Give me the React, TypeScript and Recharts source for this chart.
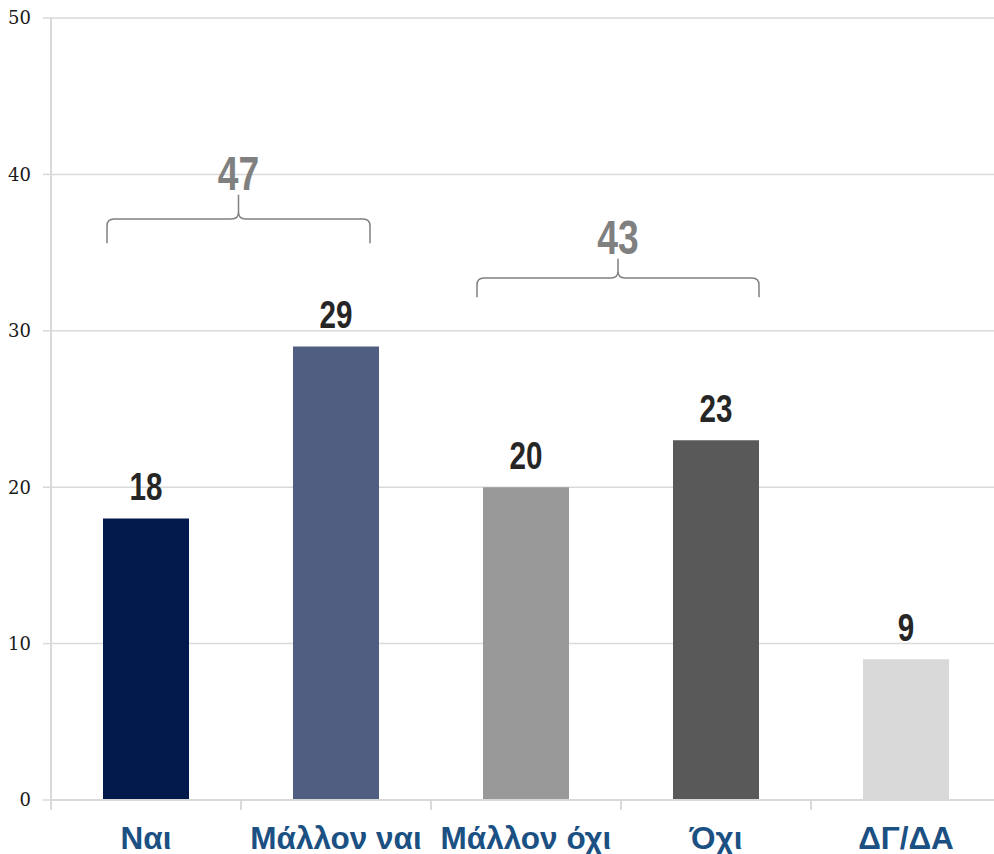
import React from 'react';
import { BarChart, Bar, XAxis, YAxis, CartesianGrid, Cell, LabelList, ReferenceArea } from 'recharts';

// ---- data ----
const categories = ['Ναι', 'Μάλλον ναι', 'Μάλλον όχι', 'Όχι', 'ΔΓ/ΔΑ'];
const values = [18, 29, 20, 23, 9];
const yTicks = [0, 10, 20, 30, 40, 50];
const groupFrom = ['Ναι', 'Μάλλον όχι'];
const groupTo = ['Μάλλον ναι', 'Όχι'];
const groupTotals = [47, 43];

// ---- styles / layout ----
const barColors = ['#011A4B', '#4F5E81', '#999999', '#595959', '#D9D9D9'];
const braceBottom = [35.6, 32.15];
const braceTip = [38.7, 34.6];
const braceInsetLeft = [56, 46];
const braceInsetRight = [61, 52];

const data = categories.map((c, i) => ({ name: c, value: values[i] }));

const LABEL_FONT = "'Liberation Sans', Arial, sans-serif";
const CONDENSE = 0.76;

const XTick = (props: any) => {
  const { x, y, payload } = props;
  const off = payload && payload.offset != null ? payload.offset : 95;
  return (
    <g>
      <line x1={x - off} x2={x - off} y1={y} y2={y + 10} stroke="#D9D9D9" strokeWidth={2} />
      <text
        x={x}
        y={y + 49}
        textAnchor="middle"
        fill="#1B5083"
        fontFamily="'Liberation Sans', Arial, sans-serif"
        fontWeight="bold"
        fontSize={31.5}
      >
        {payload.value}
      </text>
    </g>
  );
};

const ValueLabel = (props: any) => {
  const { x, y, width, value } = props;
  return (
    <text
      transform={`translate(${x + width / 2}, ${y - 18}) scale(${CONDENSE}, 1)`}
      x={0}
      y={0}
      textAnchor="middle"
      fill="#262626"
      fontFamily={LABEL_FONT}
      fontWeight="bold"
      fontSize={39}
    >
      {value}
    </text>
  );
};

const makeBrace = (i: number) => (props: any) => {
  const { x, y, width, height } = props;
  const L = x + braceInsetLeft[i];
  const R = x + width - braceInsetRight[i];
  const M = (L + R) / 2;
  const bottom = y + height;
  const tip = y;
  const mid = y + height * 0.5;
  const r = 7;
  const d = [
    `M ${L} ${bottom}`,
    `L ${L} ${mid + r}`,
    `Q ${L} ${mid} ${L + r} ${mid}`,
    `L ${M - r} ${mid}`,
    `Q ${M} ${mid} ${M} ${mid - r}`,
    `L ${M} ${tip}`,
    `M ${M} ${mid - r}`,
    `Q ${M} ${mid} ${M + r} ${mid}`,
    `L ${R - r} ${mid}`,
    `Q ${R} ${mid} ${R} ${mid + r}`,
    `L ${R} ${bottom}`,
  ].join(' ');
  return (
    <g>
      <path d={d} fill="none" stroke="#808080" strokeWidth={1.5} />
      <text
        transform={`translate(${M}, ${tip - 5}) scale(${CONDENSE}, 1)`}
        x={0}
        y={0}
        textAnchor="middle"
        fill="#808080"
        fontFamily={LABEL_FONT}
        fontWeight="bold"
        fontSize={49}
      >
        {groupTotals[i]}
      </text>
    </g>
  );
};

export default function App() {
  return (
    <div style={{ position: 'absolute', left: 0, top: 0, background: '#fff' }}>
      <BarChart
        width={994}
        height={854}
        data={data}
        margin={{ top: 18, right: -7, bottom: 0, left: 0 }}
        barCategoryGap="27.4%"
      >
        <CartesianGrid vertical={false} stroke="#D9D9D9" strokeWidth={1.5} />
        <XAxis
          dataKey="name"
          height={54}
          tickLine={false}
          tickSize={0}
          tickMargin={0}
          axisLine={{ stroke: '#D9D9D9', strokeWidth: 2 }}
          tick={<XTick />}
          interval={0}
        />
        <YAxis
          width={51}
          domain={[0, 50]}
          ticks={yTicks}
          tickSize={8}
          tickMargin={12}
          axisLine={{ stroke: '#D9D9D9', strokeWidth: 2 }}
          tickLine={{ stroke: '#D9D9D9', strokeWidth: 1.5 }}
          tick={{ fill: '#1a1a1a', fontSize: 18, fontFamily: "'DejaVu Serif', 'Liberation Serif', serif" }}
        />
        <Bar dataKey="value" isAnimationActive={false} barSize={86}>
          {data.map((d, i) => (
            <Cell key={d.name} fill={barColors[i]} />
          ))}
          <LabelList dataKey="value" content={<ValueLabel />} />
        </Bar>
        {groupTotals.map((t, i) => (
          <ReferenceArea
            key={i}
            x1={groupFrom[i]}
            x2={groupTo[i]}
            y1={braceBottom[i]}
            y2={braceTip[i]}
            shape={makeBrace(i)}
            isFront
          />
        ))}
      </BarChart>
    </div>
  );
}
